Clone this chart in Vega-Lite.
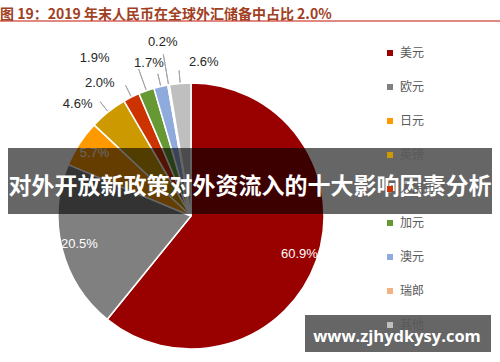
{
  "$schema": "https://vega.github.io/schema/vega-lite/v6.json",
  "width": 382,
  "height": 292,
  "autosize": {"type": "none"},
  "padding": {"left": 0, "top": 70, "right": 118, "bottom": 0},
  "background": "white",
  "config": {"view": {"stroke": null}, "font": "Liberation Sans"},
  "title": {
    "text": "图 19：2019 年末人民币在全球外汇储备中占比 2.0%",
    "anchor": "start",
    "frame": "group",
    "font": "Noto Sans CJK SC",
    "fontSize": 14,
    "fontWeight": "bold",
    "color": "#A0401F",
    "offset": -2
  },
  "data": {
    "values": [
      {"idx": 1, "currency": "美元", "pct": 60.9, "label": "60.9%"},
      {"idx": 2, "currency": "欧元", "pct": 20.5, "label": "20.5%"},
      {"idx": 3, "currency": "日元", "pct": 5.7, "label": "5.7%"},
      {"idx": 4, "currency": "英镑", "pct": 4.6, "label": "4.6%"},
      {"idx": 5, "currency": "人民币", "pct": 2.0, "label": "2.0%"},
      {"idx": 6, "currency": "加元", "pct": 1.9, "label": "1.9%"},
      {"idx": 7, "currency": "澳元", "pct": 1.7, "label": "1.7%"},
      {"idx": 8, "currency": "瑞郎", "pct": 0.2, "label": "0.2%"},
      {"idx": 9, "currency": "其他", "pct": 2.6, "label": "2.6%"}
    ]
  },
  "layer": [
    {
      "mark": {"type": "arc", "radius": 133, "stroke": "white", "strokeWidth": 1.5},
      "encoding": {
        "theta": {"field": "pct", "type": "quantitative", "stack": true},
        "order": {"field": "idx", "type": "quantitative"},
        "color": {
          "field": "currency",
          "type": "nominal",
          "scale": {
            "domain": ["美元", "欧元", "日元", "英镑", "人民币", "加元", "澳元", "瑞郎", "其他"],
            "range": ["#990000", "#808080", "#FF9900", "#CC9900", "#CC3300", "#669933", "#8FAADC", "#F4B183", "#BFBFBF"]
          },
          "legend": {
            "title": null,
            "orient": "none",
            "legendX": 384,
            "legendY": -23,
            "padding": 0,
            "symbolType": "square",
            "symbolSize": 36,
            "symbolStrokeWidth": 0,
            "labelFont": "Noto Sans CJK SC",
            "labelFontSize": 12,
            "labelColor": "#595959",
            "labelOffset": 4,
            "rowPadding": 22
          }
        }
      }
    },
    {
      "mark": {"type": "text", "radius": 115, "fill": "white", "fontSize": 13},
      "encoding": {
        "theta": {"field": "pct", "type": "quantitative", "stack": true},
        "order": {"field": "idx", "type": "quantitative"},
        "detail": {"field": "currency", "type": "nominal"},
        "text": {"condition": {"test": "datum.pct > 5", "field": "label"}, "value": ""}
      }
    },
    {
      "mark": {
        "type": "arc",
        "radius": {"expr": "datum.currency === '瑞郎' ? 164 : datum.currency === '加元' ? 156 : 146"},
        "radius2": 134,
        "padAngle": 3,
        "fill": "transparent",
        "stroke": "#A6A6A6",
        "strokeWidth": 1
      },
      "encoding": {
        "theta": {"field": "pct", "type": "quantitative", "stack": true},
        "order": {"field": "idx", "type": "quantitative"},
        "detail": {"field": "currency", "type": "nominal"},
        "strokeOpacity": {"condition": {"test": "datum.pct < 5", "value": 1}, "value": 0}
      }
    },
    {
      "mark": {
        "type": "text",
        "radius": 150,
        "fill": "#262626",
        "fontSize": 13,
        "dx": {"expr": "datum.currency === '英镑' ? -20 : datum.currency === '人民币' ? -24 : datum.currency === '加元' ? -46 : datum.currency === '澳元' ? -8 : datum.currency === '瑞郎' ? -3 : datum.currency === '其他' ? 25 : 0"},
        "dy": {"expr": "datum.currency === '英镑' ? 5 : datum.currency === '人民币' ? 1 : datum.currency === '加元' ? -17 : datum.currency === '澳元' ? -7 : datum.currency === '瑞郎' ? -26 : datum.currency === '其他' ? -4 : 0"}
      },
      "encoding": {
        "theta": {"field": "pct", "type": "quantitative", "stack": true},
        "order": {"field": "idx", "type": "quantitative"},
        "detail": {"field": "currency", "type": "nominal"},
        "text": {"condition": {"test": "datum.pct < 5", "field": "label"}, "value": ""}
      }
    },
    {
      "data": {"values": [{"k": 1}]},
      "mark": {"type": "rule", "stroke": "#D9605A", "strokeWidth": 1.5},
      "encoding": {"x": {"value": 0}, "x2": {"value": 500}, "y": {"value": -49}}
    },
    {
      "data": {"values": [{"t": "对外开放新政策对外资流入的十大影响因素分析"}]},
      "layer": [
        {
          "mark": {"type": "rect", "fill": "black", "opacity": 0.6},
          "encoding": {"x": {"value": 8}, "x2": {"value": 492}, "y": {"value": 78}, "y2": {"value": 144}}
        },
        {
          "mark": {"type": "text", "font": "Noto Sans CJK SC", "fontSize": 23, "fontWeight": "bold", "fill": "white"},
          "encoding": {"text": {"field": "t"}, "x": {"value": 250}, "y": {"value": 117}}
        }
      ]
    },
    {
      "data": {"values": [{"t": "www.zjhydkysy.com"}]},
      "layer": [
        {
          "mark": {"type": "rect", "fill": "black", "opacity": 0.6},
          "encoding": {"x": {"value": 305}, "x2": {"value": 491}, "y": {"value": 245}, "y2": {"value": 282}}
        },
        {
          "mark": {"type": "text", "font": "Open Sans", "fontSize": 16.5, "fontWeight": "bold", "fill": "white"},
          "encoding": {"text": {"field": "t"}, "x": {"value": 397}, "y": {"value": 267}}
        }
      ]
    }
  ]
}
